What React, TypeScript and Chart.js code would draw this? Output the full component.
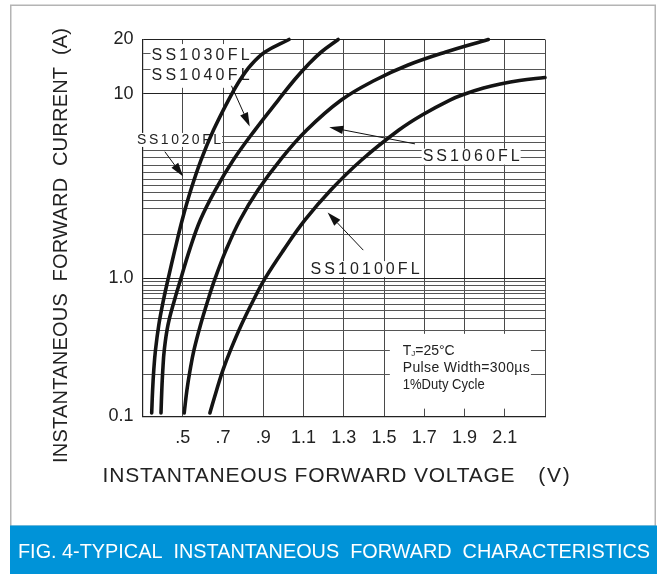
import React, { useEffect, useRef } from 'react';
import { Chart, registerables, LogarithmicScale } from 'chart.js';

Chart.register(...registerables);

// ---------------- data ----------------
const xGridValues = [0.3, 0.5, 0.7, 0.9, 1.1, 1.3, 1.5, 1.7, 1.9, 2.1, 2.3];
const xTickValues = [0.5, 0.7, 0.9, 1.1, 1.3, 1.5, 1.7, 1.9, 2.1];
const xTickLabels = ['.5', '.7', '.9', '1.1', '1.3', '1.5', '1.7', '1.9', '2.1'];

const yTickValues = [0.1, 1, 10, 20];
const yTickLabels = ['0.1', '1.0', '10', '20'];
const yGridValues = [
  0.1, 0.2, 0.3, 0.42, 0.51, 0.58, 0.65, 0.71, 0.77, 0.82, 0.88, 0.94,
  1, 1.73, 2.4, 2.63, 2.91, 3.17, 3.44, 3.74, 4.08, 4.5, 4.92, 5.44, 5.87,
  10, 13.7, 16.8, 20,
];

// SS1020FL
const ss1020V = [0.3457, 0.3502, 0.3561, 0.3646, 0.381, 0.4043, 0.4282, 0.4605, 0.4973, 0.54, 0.5907, 0.6528, 0.7273, 0.7845, 0.8391, 0.9087, 1.028];
const ss1020I = [0.106, 0.155, 0.217, 0.303, 0.459, 0.696, 1.0, 1.42, 2.07, 3.01, 4.38, 6.37, 9.27, 11.95, 14.46, 17.06, 20];

// SS1030FL / SS1040FL
const ss1040V = [0.3919, 0.3959, 0.4009, 0.4083, 0.4267, 0.459, 0.4913, 0.5335, 0.5872, 0.6617, 0.7512, 0.8585, 0.9748, 1.0543, 1.1214, 1.1884, 1.2724];
const ss1040I = [0.106, 0.155, 0.217, 0.303, 0.459, 0.696, 1.0, 1.42, 2.07, 3.01, 4.38, 6.37, 9.27, 11.95, 14.46, 17.06, 20];

// SS1060FL
const ss1060V = [0.5072, 0.5206, 0.5365, 0.5559, 0.5882, 0.6255, 0.6612, 0.7149, 0.7845, 0.8739, 0.9842, 1.1161, 1.2878, 1.4568, 1.6198, 1.8071, 2.0183];
const ss1060I = [0.106, 0.155, 0.217, 0.303, 0.459, 0.696, 1.0, 1.42, 2.07, 3.01, 4.38, 6.37, 9.27, 11.95, 14.46, 17.06, 20];

// SS10100FL
const ss10100V = [0.6349, 0.6682, 0.7, 0.7378, 0.7909, 0.8516, 0.9097, 1.0006, 1.1075, 1.2357, 1.3887, 1.574, 1.6893, 1.8275, 1.902, 1.9944, 2.0779, 2.1738, 2.3];
const ss10100I = [0.106, 0.155, 0.217, 0.303, 0.459, 0.696, 1.0, 1.42, 2.07, 3.01, 4.38, 6.37, 7.69, 9.27, 10.0, 10.79, 11.36, 11.87, 12.33];

const seriesNames = ['SS1020FL', 'SS1030FL/SS1040FL', 'SS1060FL', 'SS10100FL'];

// ------------- warped log axis (datasheet grid has unequal decades) -------------
const Y_KNOT_VALUES = [0.1, 1, 10, 20];
const Y_KNOT_FRACTIONS = [0, 0.3669, 0.8555, 1];

function warpDecimal(v: number): number {
  const L = Math.log10(Math.max(v, 1e-9));
  const K = Y_KNOT_VALUES.map((k) => Math.log10(k));
  const F = Y_KNOT_FRACTIONS;
  let i = 0;
  while (i < K.length - 2 && L > K[i + 1]) i++;
  const t = (L - K[i]) / (K[i + 1] - K[i]);
  return F[i] + t * (F[i + 1] - F[i]);
}
function unwarpDecimal(d: number): number {
  const K = Y_KNOT_VALUES.map((k) => Math.log10(k));
  const F = Y_KNOT_FRACTIONS;
  let i = 0;
  while (i < F.length - 2 && d > F[i + 1]) i++;
  const t = (d - F[i]) / (F[i + 1] - F[i]);
  return Math.pow(10, K[i] + t * (K[i + 1] - K[i]));
}

class WarpedLogScale extends LogarithmicScale {
  static id = 'warpedLog';
  static defaults = { ...(LogarithmicScale as any).defaults };
  getPixelForValue(value: number) {
    if (value === undefined || value === null || isNaN(value)) return NaN;
    return (this as any).getPixelForDecimal(warpDecimal(value));
  }
  getValueForPixel(pixel: number) {
    return unwarpDecimal((this as any).getDecimalForPixel(pixel));
  }
}
Chart.register(WarpedLogScale as any);

// ------------- annotations (anchored in data units) -------------
type Lbl = { text: string; v: number; i: number; width: number; size: number; pad: number };
const curveLabels: Lbl[] = [
  { text: 'SS1030FL', v: 0.345, i: 16.2, width: 98, size: 16, pad: 0.75 },
  { text: 'SS1040FL', v: 0.345, i: 12.6, width: 98, size: 16, pad: 0.75 },
  { text: 'SS1020FL', v: 0.273, i: 5.63, width: 84, size: 14, pad: 0.5 },
  { text: 'SS1060FL', v: 1.692, i: 4.57, width: 97, size: 16, pad: 0.5 },
  { text: 'SS10100FL', v: 1.135, i: 1.12, width: 109, size: 16, pad: 0.5 },
];
const arrows = [
  { from: [0.742, 11.1], to: [0.833, 6.65] },
  { from: [0.411, 4.86], to: [0.502, 3.56] },
  { from: [1.654, 5.36], to: [1.228, 6.6] },
  { from: [1.397, 1.42], to: [1.22, 2.27] },
];
const noteBox = { v0: 1.529, v1: 2.23, i0: 0.114, i1: 0.396 };
const noteLines = [
  { v: 1.593, i: 0.298 },
  { v: 1.593, i: 0.225, text: 'Pulse Width=300µs', width: 127 },
  { v: 1.593, i: 0.169, text: '1%Duty Cycle', width: 82 },
];

const FONT = '"Liberation Sans", Arial, sans-serif';

function fitText(ctx: CanvasRenderingContext2D, text: string, x: number, y: number, width: number, size: number, align: 'left' | 'center' = 'left') {
  ctx.save();
  ctx.font = `${size}px ${FONT}`;
  (ctx as any).letterSpacing = '0px';
  ctx.textAlign = 'left';
  const n = [...text].length;
  const w = ctx.measureText(text).width;
  const x0 = align === 'center' ? x - width / 2 : x;
  if (w < width && n > 1) {
    (ctx as any).letterSpacing = `${(width - w) / (n - 1)}px`;
    ctx.fillText(text, x0, y);
  } else {
    ctx.translate(x0, y);
    ctx.scale(width / w, 1);
    ctx.fillText(text, 0, 0);
  }
  ctx.restore();
}

function arrow(ctx: CanvasRenderingContext2D, x0: number, y0: number, x1: number, y1: number) {
  const ang = Math.atan2(y1 - y0, x1 - x0);
  const len = 14;
  const hw = 4.2;
  const bx = x1 - len * Math.cos(ang);
  const by = y1 - len * Math.sin(ang);
  ctx.save();
  ctx.strokeStyle = '#111';
  ctx.fillStyle = '#111';
  ctx.lineWidth = 1;
  ctx.beginPath();
  ctx.moveTo(x0, y0);
  ctx.lineTo(bx, by);
  ctx.stroke();
  ctx.beginPath();
  ctx.moveTo(x1, y1);
  ctx.lineTo(bx + hw * Math.sin(ang), by - hw * Math.cos(ang));
  ctx.lineTo(bx - hw * Math.sin(ang), by + hw * Math.cos(ang));
  ctx.closePath();
  ctx.fill();
  ctx.restore();
}

const decorPlugin = {
  id: 'decor',
  beforeDraw(chart: any) {
    const ctx: CanvasRenderingContext2D = chart.ctx;
    ctx.save();
    ctx.fillStyle = '#fff';
    ctx.fillRect(0, 0, chart.width, chart.height);
    // frame
    ctx.strokeStyle = '#b4b4b4';
    ctx.lineWidth = 1.5;
    ctx.strokeRect(10.75, 5.25, 644.5, 521);
    // banner
    ctx.fillStyle = '#0093d8';
    ctx.fillRect(10, 525.5, 647, 48.5);
    ctx.fillStyle = '#ffffff';
    ctx.textBaseline = 'middle';
    fitText(ctx, 'FIG. 4-TYPICAL  INSTANTANEOUS  FORWARD  CHARACTERISTICS', 18, 552, 632, 20);
    // axis titles
    ctx.fillStyle = '#222';
    fitText(ctx, 'INSTANTANEOUS FORWARD VOLTAGE', 102.6, 476, 412, 21);
    fitText(ctx, '(V)', 538.3, 476, 31.5, 21);
    ctx.save();
    ctx.translate(61, 245.5);
    ctx.rotate(-Math.PI / 2);
    fitText(ctx, 'INSTANTANEOUS  FORWARD  CURRENT  (A)', 0, 0, 435, 20, 'center');
    ctx.restore();
    ctx.restore();
  },
  beforeDatasetsDraw(chart: any) {
    const ctx: CanvasRenderingContext2D = chart.ctx;
    const xs = chart.scales.x;
    const ys = chart.scales.y;
    ctx.save();
    ctx.textBaseline = 'middle';
    for (const l of curveLabels) {
      const x = xs.getPixelForValue(l.v);
      const y = ys.getPixelForValue(l.i);
      ctx.fillStyle = '#fff';
      ctx.fillRect(x - 1, y - l.size * l.pad, l.width + 2, l.size * l.pad * 2);
    }
    ctx.fillStyle = '#222';
    for (const l of curveLabels) {
      fitText(ctx, l.text, xs.getPixelForValue(l.v), ys.getPixelForValue(l.i), l.width, l.size);
    }
    // note box
    const bx0 = xs.getPixelForValue(noteBox.v0);
    const bx1 = xs.getPixelForValue(noteBox.v1);
    const by0 = ys.getPixelForValue(noteBox.i1);
    const by1 = ys.getPixelForValue(noteBox.i0);
    ctx.fillStyle = '#fff';
    ctx.fillRect(bx0, by0, bx1 - bx0, by1 - by0);
    ctx.fillStyle = '#222';
    {
      const x = xs.getPixelForValue(noteLines[0].v);
      const y = ys.getPixelForValue(noteLines[0].i);
      ctx.font = `14px ${FONT}`;
      ctx.textAlign = 'left';
      ctx.fillText('T', x, y);
      const tw = ctx.measureText('T').width;
      ctx.font = `8px ${FONT}`;
      ctx.fillText('J', x + tw, y + 3);
      ctx.font = `14px ${FONT}`;
      ctx.fillText('=25°C', x + tw + 4, y);
    }
    for (let k = 1; k < noteLines.length; k++) {
      const n = noteLines[k];
      fitText(ctx, n.text as string, xs.getPixelForValue(n.v), ys.getPixelForValue(n.i), n.width as number, 14);
    }
    ctx.restore();
  },
  afterDatasetsDraw(chart: any) {
    const ctx: CanvasRenderingContext2D = chart.ctx;
    const xs = chart.scales.x;
    const ys = chart.scales.y;
    for (const a of arrows) {
      arrow(ctx, xs.getPixelForValue(a.from[0]), ys.getPixelForValue(a.from[1]), xs.getPixelForValue(a.to[0]), ys.getPixelForValue(a.to[1]));
    }
  },
};

function pts(vs: number[], is: number[]) {
  return vs.map((v, k) => ({ x: v, y: is[k] }));
}

export default function App() {
  const ref = useRef<HTMLCanvasElement>(null);
  useEffect(() => {
    const curves = [
      pts(ss1020V, ss1020I),
      pts(ss1040V, ss1040I),
      pts(ss1060V, ss1060I),
      pts(ss10100V, ss10100I),
    ];
    const chart = new Chart(ref.current as HTMLCanvasElement, {
      type: 'scatter',
      data: {
        datasets: curves.map((d, k) => ({
          label: seriesNames[k],
          data: d,
          showLine: true,
          borderColor: '#141414',
          borderWidth: 3.6,
          borderCapStyle: 'round',
          borderJoinStyle: 'round',
          pointRadius: 0,
          tension: 0.4,
          clip: 4,
        })),
      } as any,
      options: {
        animation: false,
        responsive: false,
        events: [],
        layout: { padding: { left: 0, top: 39.5, right: 112, bottom: 0 } },
        plugins: { legend: { display: false }, tooltip: { enabled: false }, title: { display: false } },
        scales: {
          x: {
            type: 'linear',
            min: 0.3,
            max: 2.3,
            afterBuildTicks: (s: any) => {
              s.ticks = xGridValues.map((v) => ({ value: v }));
            },
            afterFit: (s: any) => {
              s.height = 157.5;
            },
            grid: { color: '#4a4a4a', lineWidth: 1, drawTicks: false },
            border: { display: true, color: '#222', width: 1.2 },
            ticks: {
              autoSkip: false,
              maxRotation: 0,
              minRotation: 0,
              padding: 11,
              color: '#222',
              font: { family: FONT, size: 18 },
              callback: (v: any) => {
                const idx = xTickValues.findIndex((t) => Math.abs(t - Number(v)) < 1e-6);
                return idx >= 0 ? xTickLabels[idx] : '';
              },
            },
          },
          y: {
            type: 'warpedLog' as any,
            min: 0.1,
            max: 20,
            bounds: 'data',
            afterBuildTicks: (s: any) => {
              s.ticks = yGridValues.map((v) => ({ value: v }));
            },
            afterFit: (s: any) => {
              s.width = 142.5;
            },
            grid: {
              color: (c: any) => (yTickValues.some((t) => Math.abs(t - c.tick?.value) < 1e-9) ? '#222' : '#555'),
              lineWidth: 1,
              drawTicks: false,
            },
            border: { display: true, color: '#222', width: 1.2 },
            ticks: {
              autoSkip: false,
              padding: 9,
              color: '#222',
              font: { family: FONT, size: 18 },
              callback: (v: any) => {
                const idx = yTickValues.findIndex((t) => Math.abs(t - Number(v)) < 1e-9);
                return idx >= 0 ? yTickLabels[idx] : '';
              },
            },
          } as any,
        },
      } as any,
      plugins: [decorPlugin as any],
    });
    return () => chart.destroy();
  }, []);
  return (
    <div style={{ position: 'absolute', left: 0, top: 0, width: 657, height: 574, background: '#fff' }}>
      <canvas ref={ref} width={657} height={574} style={{ display: 'block', width: 657, height: 574 }} />
    </div>
  );
}
